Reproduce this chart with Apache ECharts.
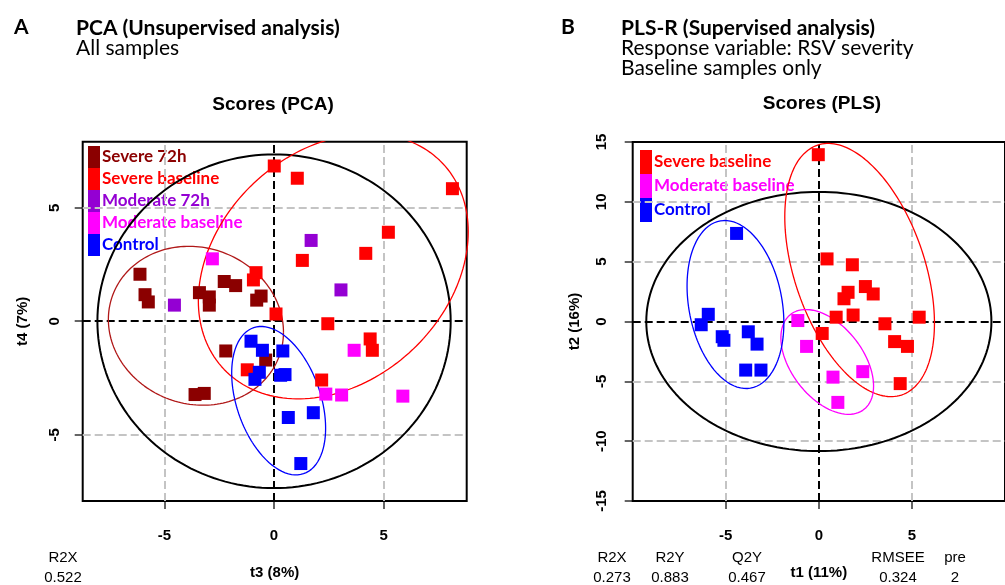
<!DOCTYPE html>
<html>
<head>
<meta charset="utf-8">
<script src="https://cdn.jsdelivr.net/npm/echarts@6/dist/echarts.min.js"></script>
<style>
  html, body { margin: 0; padding: 0; background: #fff; }
  #chart { width: 1005px; height: 585px; }
</style>
</head>
<body>
<div id="chart"></div>
<script>
// ---- Panel A: PCA scores (t3 vs t4), all samples ----
const pcaGroups = ['Severe 72h', 'Severe baseline', 'Moderate 72h', 'Moderate baseline', 'Control'];
const pcaSevere72hT3 = [-6.11, -5.88, -5.73, -3.40, -2.95, -2.95, -2.27, -1.75, -0.59, -0.79, -2.20, -0.38, -3.60, -3.18];
const pcaSevere72hT4 = [2.07, 1.17, 0.85, 1.26, 1.07, 0.71, 1.75, 1.57, 1.11, 0.93, -1.31, -1.71, -3.23, -3.18];
const pcaSevereBaseT3 = [0.01, 1.06, 8.13, 5.21, 4.18, 1.29, -0.82, -0.94, 0.09, 2.45, 4.38, 4.48, -1.22, 2.17];
const pcaSevereBaseT4 = [6.84, 6.30, 5.84, 3.92, 2.99, 2.68, 2.14, 1.82, 0.32, -0.11, -0.78, -1.28, -2.14, -2.59];
const pcaModerate72hT3 = [-4.54, 1.69, 3.05];
const pcaModerate72hT4 = [0.71, 3.56, 1.38];
const pcaModerateBaseT3 = [-2.81, 3.65, 2.36, 3.08, 5.87];
const pcaModerateBaseT4 = [2.75, -1.28, -3.21, -3.25, -3.30];
const pcaControlT3 = [-1.05, -0.53, 0.40, -0.67, -0.87, 0.30, 0.50, 0.65, 1.79, 1.22];
const pcaControlT4 = [-0.88, -1.28, -1.31, -2.25, -2.56, -2.38, -2.35, -4.24, -4.03, -6.27];
const pcaTicks = [-5, 0, 5];
const pcaStatNames = ['R2X'];
const pcaStatValues = ['0.522'];

// ---- Panel B: PLS-R scores (t1 vs t2), baseline samples only ----
const plsGroups = ['Severe baseline', 'Moderate baseline', 'Control'];
const plsSevereT1 = [-0.03, 0.44, 1.80, 2.50, 2.92, 1.57, 1.35, 0.93, 1.84, 5.39, 3.55, 0.18, 4.07, 4.76, 4.37];
const plsSevereT2 = [13.94, 5.23, 4.74, 2.92, 2.30, 2.44, 1.90, 0.36, 0.54, 0.36, -0.19, -1.00, -1.68, -2.08, -5.19];
const plsModerateT1 = [-1.13, -0.66, 0.76, 2.36, 1.02];
const plsModerateT2 = [0.08, -2.08, -4.65, -4.19, -6.76];
const plsControlT1 = [-4.42, -5.94, -6.32, -5.19, -5.10, -3.79, -3.32, -3.93, -3.11];
const plsControlT2 = [7.36, 0.60, -0.27, -1.27, -1.57, -0.86, -1.89, -4.06, -4.06];
const plsXTicks = [-5, 0, 5];
const plsYTicks = [-15, -10, -5, 0, 5, 10, 15];
const plsStatNames = ['R2X', 'R2Y', 'Q2Y', 'RMSEE', 'pre'];
const plsStatValues = ['0.273', '0.883', '0.467', '0.324', '2'];

// Confidence ellipses: [centre x, centre y, half-width, half-height, correlation]
const pcaHotelling = [0, 0, 8.05, 7.35, 0];
const pcaEllSevere72h = [-3.56, -0.20, 3.99, 3.50, -0.08];
const pcaEllSevereBase = [2.70, 2.42, 6.15, 5.84, 0.26];
const pcaEllControl = [0.21, -3.50, 2.14, 3.27, -0.37];
const plsHotelling = [0, 0, 9.27, 10.83, 0];
const plsEllSevere = [2.19, 4.30, 4.02, 10.58, -0.42];
const plsEllModerate = [0.45, -3.38, 2.49, 4.38, -0.46];
const plsEllControl = [-4.48, 1.42, 2.60, 7.02, -0.22];

const COLORS = {
  'Severe 72h': '#8b0000',
  'Severe baseline': '#ff0000',
  'Moderate 72h': '#9400d3',
  'Moderate baseline': '#ff00ff',
  'Control': '#0000ff'
};

// Axis extents of the two score plots
const pcaXRange = [-8.72, 8.78];
const pcaYRange = [-7.92, 7.91];
const plsXRange = [-10, 10];
const plsYRange = [-15, 15];

const GREY = '#c4c4c4';
const zip = (xs, ys) => xs.map((x, i) => [x, ys[i]]);

function ellipsePath(e) {
  const [cx, cy, sx, sy, r] = e;
  const k = Math.sqrt(1 - r * r);
  const pts = [];
  for (let i = 0; i <= 180; i++) {
    const t = (i / 180) * Math.PI * 2;
    pts.push([cx + sx * Math.cos(t), cy + sy * (r * Math.cos(t) + k * Math.sin(t))]);
  }
  return pts;
}

const FONT = 'Liberation Sans, Arial, sans-serif';
const HEAD = 'Lato, Carlito, Calibri, sans-serif';

function xAxisCfg(grid, range, ticks, name) {
  return {
    gridIndex: grid, type: 'value', min: range[0], max: range[1],
    axisLine: { show: false, onZero: false },
    axisTick: { show: true, length: 8, customValues: ticks, lineStyle: { color: '#333', width: 1.5 } },
    axisLabel: { customValues: ticks, margin: 27, color: '#000', fontFamily: FONT, fontWeight: 'bold', fontSize: 15 },
    splitLine: { show: false },
    name: name, nameLocation: 'middle', nameGap: 64,
    nameTextStyle: { color: '#000', fontFamily: FONT, fontWeight: 'bold', fontSize: 15 }
  };
}
function yAxisCfg(grid, range, ticks, name, gap, margin) {
  return {
    gridIndex: grid, type: 'value', min: range[0], max: range[1],
    axisLine: { show: false, onZero: false },
    axisTick: { show: true, length: 8, customValues: ticks, lineStyle: { color: '#333', width: 1.5 } },
    axisLabel: { customValues: ticks, rotate: 90, margin: margin, color: '#000', fontFamily: FONT, fontWeight: 'bold', fontSize: 15 },
    splitLine: { show: false },
    name: name, nameLocation: 'middle', nameGap: gap, nameRotate: 90,
    nameTextStyle: { color: '#000', fontFamily: FONT, fontWeight: 'bold', fontSize: 15 }
  };
}

// Reference lines at the ticks (grey) and through zero (black), as marker lines
function gridLines(idx, xTicks, yTicks) {
  const data = [];
  xTicks.forEach(v => data.push({ xAxis: v, lineStyle: { color: v === 0 ? '#000' : GREY, width: 2 } }));
  yTicks.forEach(v => data.push({ yAxis: v, lineStyle: { color: v === 0 ? '#000' : GREY, width: 2 } }));
  return {
    type: 'line', xAxisIndex: idx, yAxisIndex: idx, data: [], z: 1, silent: true,
    markLine: { symbol: 'none', silent: true, label: { show: false }, data: data, animation: false }
  };
}

function ellipseSeries(idx, e, color, width) {
  return {
    type: 'line', xAxisIndex: idx, yAxisIndex: idx, data: ellipsePath(e),
    showSymbol: false, smooth: false, clip: true, silent: true, z: 6,
    lineStyle: { color: color, width: width }
  };
}

function scatter(idx, name, xs, ys) {
  return {
    type: 'scatter', name: name, xAxisIndex: idx, yAxisIndex: idx,
    data: zip(xs, ys), symbol: 'rect', symbolSize: 13, z: 7,
    itemStyle: { color: COLORS[name], opacity: 1 }
  };
}

function legendCfg(names, left, top, h) {
  return {
    orient: 'vertical', left: left, top: top, padding: 0, itemGap: 0,
    itemWidth: 12, itemHeight: h, icon: 'rect', z: 1, selectedMode: false,
    data: names.map(n => ({ name: n, textStyle: { color: COLORS[n] } })),
    textStyle: { fontFamily: HEAD, fontWeight: 'bold', fontSize: 17, padding: [0, 0, 0, -3] }
  };
}

function txt(x, y, s, opt) {
  return {
    type: 'text', x: x, y: y, silent: true,
    style: Object.assign({ text: s, fill: '#000', font: '15px ' + FONT, textAlign: 'center', textVerticalAlign: 'middle' }, opt || {})
  };
}

const graphics = [
  txt(14, 27, 'A', { font: 'bold 21px ' + HEAD, textAlign: 'left' }),
  txt(76, 28, 'PCA (Unsupervised analysis)', { font: 'bold 21px ' + HEAD, textAlign: 'left' }),
  txt(76, 48, 'All samples', { font: '21px ' + HEAD, textAlign: 'left' }),
  txt(561, 27, 'B', { font: 'bold 21px ' + HEAD, textAlign: 'left' }),
  txt(621, 28, 'PLS-R (Supervised analysis)', { font: 'bold 21px ' + HEAD, textAlign: 'left' }),
  txt(621, 48, 'Response variable: RSV severity', { font: '21px ' + HEAD, textAlign: 'left' }),
  txt(621, 68, 'Baseline samples only', { font: '21px ' + HEAD, textAlign: 'left' }),
  txt(273, 105, 'Scores (PCA)', { font: 'bold 19px ' + FONT }),
  txt(822, 104, 'Scores (PLS)', { font: 'bold 19px ' + FONT })
];
const pcaStatX = [63];
pcaStatNames.forEach((n, i) => {
  graphics.push(txt(pcaStatX[i], 558, n));
  graphics.push(txt(pcaStatX[i], 578, pcaStatValues[i]));
});
const plsStatX = [612, 670, 747, 898, 955];
plsStatNames.forEach((n, i) => {
  graphics.push(txt(plsStatX[i], 558, n));
  graphics.push(txt(plsStatX[i], 578, plsStatValues[i]));
});

const plsInnerYTicks = plsYTicks.filter(v => Math.abs(v) < 15);

const chart = echarts.init(document.getElementById('chart'), null, { renderer: 'canvas' });
chart.setOption({
  animation: false,
  backgroundColor: '#fff',
  grid: [
    { left: 82.7, top: 141.7, width: 384, height: 370.3, show: true, borderColor: '#000', borderWidth: 2, backgroundColor: 'transparent', z: 5 },
    { left: 632.7, top: 142, width: 381.4, height: 369.7, show: true, borderColor: '#000', borderWidth: 2, backgroundColor: 'transparent', z: 5 }
  ],
  xAxis: [
    xAxisCfg(0, pcaXRange, pcaTicks, 't3 (8%)'),
    xAxisCfg(1, plsXRange, plsXTicks, 't1 (11%)')
  ],
  yAxis: [
    yAxisCfg(0, pcaYRange, pcaTicks, 't4 (7%)', 52, 20),
    yAxisCfg(1, plsYRange, plsYTicks, 't2 (16%)', 50, 23)
  ],
  legend: [
    legendCfg(pcaGroups, 88, 146, 22),
    legendCfg(plsGroups, 640, 150, 24)
  ],
  graphic: graphics,
  series: [
    gridLines(0, pcaTicks, pcaTicks),
    ellipseSeries(0, pcaHotelling, '#000', 2),
    ellipseSeries(0, pcaEllSevere72h, '#b01818', 1.3),
    ellipseSeries(0, pcaEllSevereBase, '#ff0000', 1.3),
    ellipseSeries(0, pcaEllControl, '#0000ff', 1.3),
    scatter(0, 'Severe 72h', pcaSevere72hT3, pcaSevere72hT4),
    scatter(0, 'Severe baseline', pcaSevereBaseT3, pcaSevereBaseT4),
    scatter(0, 'Moderate 72h', pcaModerate72hT3, pcaModerate72hT4),
    scatter(0, 'Moderate baseline', pcaModerateBaseT3, pcaModerateBaseT4),
    scatter(0, 'Control', pcaControlT3, pcaControlT4),

    gridLines(1, plsXTicks, plsInnerYTicks),
    ellipseSeries(1, plsHotelling, '#000', 2),
    ellipseSeries(1, plsEllSevere, '#ff0000', 1.3),
    ellipseSeries(1, plsEllModerate, '#ff00ff', 1.3),
    ellipseSeries(1, plsEllControl, '#0000ff', 1.3),
    scatter(1, 'Severe baseline', plsSevereT1, plsSevereT2),
    scatter(1, 'Moderate baseline', plsModerateT1, plsModerateT2),
    scatter(1, 'Control', plsControlT1, plsControlT2)
  ]
});
</script>
</body>
</html>
